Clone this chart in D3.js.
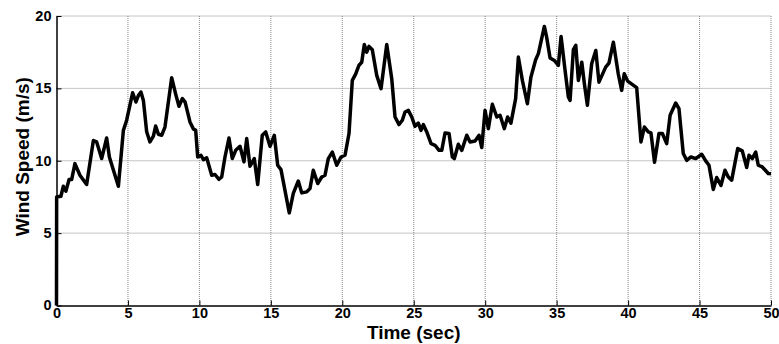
<!DOCTYPE html>
<html>
<head>
<meta charset="utf-8">
<script src="https://cdn.jsdelivr.net/npm/d3@7"></script>
<style>
  body { margin: 0; background: #fff; }
  text { font-family: "Liberation Sans", Arial, sans-serif; font-weight: bold; }
</style>
</head>
<body>
<script>
// wind speed trace
var time = [0, 0.01, 0.31, 0.48, 0.66, 0.88, 1.06, 1.29, 1.64, 2.11, 2.58, 2.81, 3.16, 3.51, 3.7, 4.33, 4.68, 4.91,
  5.33, 5.56, 5.73, 5.91, 6.08, 6.31, 6.54, 6.78, 6.94, 7.13, 7.36, 7.59, 8.06, 8.34, 8.57, 8.81, 9.0, 9.34, 9.58, 9.74,
  9.88, 10.11, 10.28, 10.51, 10.86, 11.09, 11.37, 11.56, 11.79, 12.07, 12.3, 12.54, 12.84, 13.12, 13.31, 13.54, 13.84,
  14.08, 14.4, 14.64, 14.94, 15.24, 15.48, 15.71, 16.29, 16.57, 16.92, 17.16, 17.51, 17.74, 17.97, 18.28, 18.56, 18.79,
  19.02, 19.3, 19.61, 19.91, 20.19, 20.47, 20.7, 20.94, 21.17, 21.36, 21.54, 21.71, 21.87, 22.1, 22.41, 22.71, 23.11,
  23.46, 23.69, 23.97, 24.2, 24.39, 24.62, 24.86, 25.09, 25.32, 25.51, 25.67, 25.91, 26.21, 26.49, 26.77, 26.96, 27.19,
  27.47, 27.7, 27.84, 28.12, 28.36, 28.71, 28.94, 29.29, 29.57, 29.76, 29.99, 30.22, 30.5, 30.81, 31.04, 31.34, 31.57,
  31.8, 32.13, 32.32, 32.6, 32.95, 33.2, 33.53, 33.72, 34.14, 34.3, 34.54, 34.84, 35.12, 35.31, 35.59, 35.82, 35.94,
  36.17, 36.34, 36.52, 36.76, 36.94, 37.15, 37.45, 37.74, 37.96, 38.43, 38.66, 38.97, 39.31, 39.55, 39.73, 39.97, 40.6,
  40.9, 41.14, 41.41, 41.6, 41.85, 42.16, 42.4, 42.7, 42.94, 43.33, 43.56, 43.86, 44.1, 44.4, 44.73, 45.15, 45.43, 45.66,
  45.96, 46.2, 46.5, 46.78, 47.01, 47.25, 47.67, 47.99, 48.3, 48.46, 48.69, 48.93, 49.11, 49.39, 49.81, 50];
var speed = [0, 7.5, 7.55, 8.24, 7.9, 8.7, 8.7, 9.8, 9.0, 8.36, 11.4, 11.3, 10.15, 11.57, 10.26, 8.24, 12.1, 12.8,
  14.7, 14.06, 14.5, 14.75, 14.17, 12.0, 11.3, 11.7, 12.4, 11.83, 11.76, 12.33, 15.74, 14.6, 13.76, 14.3, 14.05, 12.68,
  12.2, 12.1, 10.26, 10.38, 10.08, 10.2, 9.0, 9.05, 8.72, 8.88, 10.26, 11.57, 10.15, 10.72, 11.0, 9.92, 11.53, 9.62,
  10.15, 8.36, 11.76, 11.99, 11.0, 11.76, 9.69, 9.39, 6.4, 7.74, 8.6, 7.78, 7.85, 8.08, 9.34, 8.43, 8.88, 9.0, 10.15,
  10.6, 9.69, 10.26, 10.38, 11.88, 15.55, 16.0, 16.6, 16.8, 18.03, 17.5, 17.9, 17.67, 15.9, 14.98, 18.03, 15.67, 13.02,
  12.5, 12.8, 13.37, 13.48, 13.02, 12.38, 12.6, 12.1, 12.5, 11.99, 11.18, 11.07, 10.72, 10.72, 11.92, 11.88, 10.26,
  10.15, 11.14, 10.72, 11.76, 11.3, 11.37, 11.76, 10.91, 13.48, 12.22, 13.9, 13.02, 13.14, 12.22, 13.02, 12.6, 14.29,
  17.16, 15.55, 13.94, 15.78, 16.98, 17.4, 19.28, 18.54, 17.1, 16.93, 16.59, 18.59, 16.24, 14.4, 14.17, 17.67, 17.97,
  15.55, 16.81, 15.32, 13.83, 16.7, 17.62, 15.43, 16.47, 16.74, 18.19, 16.01, 14.86, 16.01, 15.5, 15.05, 11.3, 12.33,
  11.99, 11.92, 9.9, 11.88, 11.88, 11.18, 13.14, 13.99, 13.6, 10.5, 10.03, 10.26, 10.15, 10.45, 9.99, 9.69, 8.01, 8.84,
  8.3, 9.34, 8.88, 8.66, 10.84, 10.68, 9.53, 10.38, 10.15, 10.6, 9.69, 9.57, 9.12, 9.1];
var xTicks = [0, 5, 10, 15, 20, 25, 30, 35, 40, 45, 50];
var yTicks = [0, 5, 10, 15, 20];

var margin = {top: 16, right: 8, bottom: 38.5, left: 56.5};
var width = 779 - margin.left - margin.right;
var height = 344 - margin.top - margin.bottom;

var svg = d3.select("body").append("svg")
    .attr("width", 779)
    .attr("height", 344)
  .append("g")
    .attr("transform", "translate(" + margin.left + "," + margin.top + ")");

var x = d3.scaleLinear().domain([0, 50]).range([0, width]);
var y = d3.scaleLinear().domain([0, 20]).range([height, 0]);

// dotted grid
svg.append("g").selectAll("line")
    .data(xTicks.slice(1))
  .enter().append("line")
    .attr("x1", function(d) { return x(d); })
    .attr("x2", function(d) { return x(d); })
    .attr("y1", 0)
    .attr("y2", height)
    .attr("stroke", "#888")
    .attr("stroke-dasharray", "1,1");

svg.append("g").selectAll("line")
    .data(yTicks.slice(1))
  .enter().append("line")
    .attr("x1", 0)
    .attr("x2", width)
    .attr("y1", function(d) { return y(d); })
    .attr("y2", function(d) { return y(d); })
    .attr("stroke", "#888")
    .attr("stroke-dasharray", "1,1");

var xAxis = d3.axisBottom(x).tickValues(xTicks).tickSizeInner(-5).tickSizeOuter(0).tickPadding(2);
var yAxis = d3.axisLeft(y).tickValues(yTicks).tickSizeInner(-5).tickSizeOuter(0).tickPadding(5);

var gx = svg.append("g")
    .attr("transform", "translate(0," + height + ")")
    .call(xAxis);
var gy = svg.append("g").call(yAxis);

[gx, gy].forEach(function(g) {
  g.select(".domain").attr("stroke", "#000").attr("stroke-width", 1.5);
  g.selectAll(".tick line").attr("stroke", "#000");
  g.selectAll(".tick text")
      .attr("fill", "#000")
      .style("font-size", "14.5px")
      .style("font-family", "'Liberation Sans', Arial, sans-serif")
      .style("font-weight", "bold");
});
gy.selectAll(".tick text").attr("dy", "0.3em");

var line = d3.line()
    .x(function(d, i) { return x(time[i]); })
    .y(function(d) { return y(d); });

svg.append("path")
    .datum(speed)
    .attr("fill", "none")
    .attr("stroke", "#000")
    .attr("stroke-width", 3.5)
    .attr("stroke-linejoin", "round")
    .attr("d", line);

svg.append("text")
    .attr("x", width / 2)
    .attr("y", height + 33.5)
    .style("text-anchor", "middle")
    .style("font-size", "19px")
    .text("Time (sec)");

svg.append("text")
    .attr("transform", "rotate(-90)")
    .attr("x", -height / 2 + 4)
    .attr("y", -27.5)
    .style("text-anchor", "middle")
    .style("font-size", "19px")
    .text("Wind Speed (m/s)");
</script>
</body>
</html>
